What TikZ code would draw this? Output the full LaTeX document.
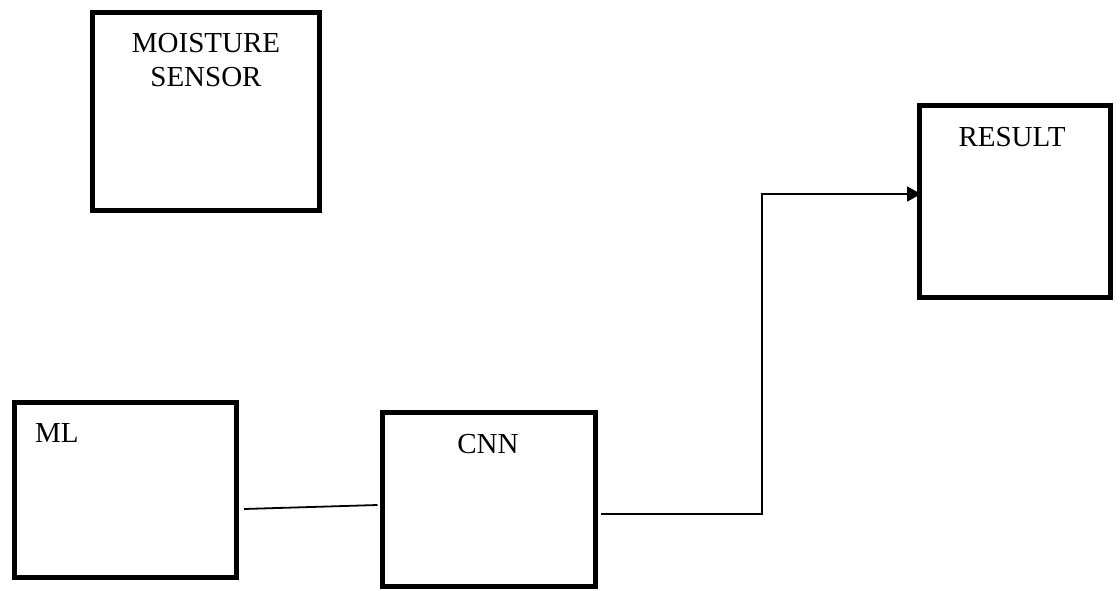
\documentclass[tikz,border=0pt]{standalone}
\usepackage{fontspec}
\setmainfont{Liberation Serif}
\usetikzlibrary{arrows.meta,calc}
\begin{document}
\begin{tikzpicture}[x=1pt,y=-1pt,
  blockbox/.style={draw=black,line width=5pt,inner sep=0pt,fill=white},
  lbl/.style={inner sep=0pt,anchor=base,font=\fontsize{29}{34}\selectfont},
  conn/.style={draw=black,line width=1.8pt},
  arr/.style={conn,-{Triangle[length=14pt,width=15pt]}}]
\useasboundingbox (0,0) rectangle (1120,590);
% boxes
\node[blockbox,minimum width=227pt,minimum height=198pt] (MS) at (206,111.5) {};
\node[blockbox,minimum width=191pt,minimum height=192pt] (RES) at (1015,201.5) {};
\node[blockbox,minimum width=222pt,minimum height=175pt] (ML) at (125.5,490) {};
\node[blockbox,minimum width=213pt,minimum height=174pt] (CNN) at (489,499.5) {};
% labels
\node[lbl] (MSt1) at (206,52) {MOISTURE};
\node[lbl] (MSt2) at (206,86) {SENSOR};
\node[lbl] (REst) at (1012,146) {RESULT};
\node[lbl,anchor=base west] (MLt) at (35,442) {ML};
\node[lbl] (CNNt) at (488,453) {CNN};
% connectors
\coordinate (a) at ([xshift=5pt,yshift=-19pt]ML.east);
\coordinate (b) at ([xshift=-2.5pt,yshift=-5.5pt]CNN.west);
\draw[conn] (a) -- (b);
\coordinate (c) at ([xshift=2.5pt,yshift=-14.5pt]CNN.east);
\coordinate (bend1) at (762,514);
\coordinate (bend2) at (762,194);
\coordinate (d) at ([xshift=4pt,yshift=7.5pt]RES.west);
\draw[arr] (c) -- (bend1) -- (bend2) -- (d);
\end{tikzpicture}
\end{document}
